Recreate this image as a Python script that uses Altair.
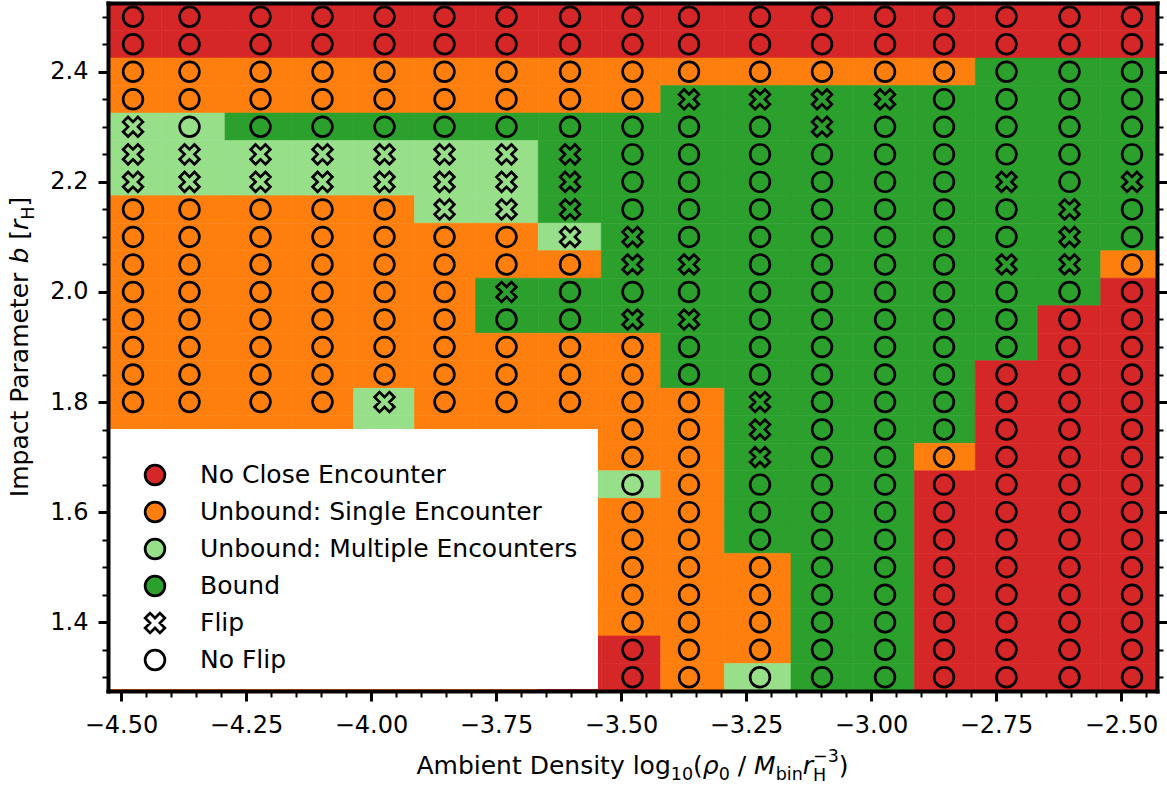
import altair as alt
import pandas as pd

FONT = "DejaVu Sans"

# log10 ambient density of each grid column
density = [-4.476, -4.363, -4.221, -4.097, -3.973, -3.853, -3.729, -3.602,
           -3.477, -3.364, -3.222, -3.098, -2.972, -2.854, -2.729, -2.603, -2.478]

# impact parameter of each grid row, top to bottom
impact = [2.50, 2.45, 2.40, 2.35, 2.30, 2.25, 2.20, 2.15, 2.10, 2.05, 2.00,
          1.95, 1.90, 1.85, 1.80, 1.75, 1.70, 1.65, 1.60, 1.55, 1.50, 1.45,
          1.40, 1.35, 1.30]

# outcome per cell: R no close encounter, O unbound single, L unbound multiple, G bound
outcome_rows = [
    "RRRRRRRRRRRRRRRRR",
    "RRRRRRRRRRRRRRRRR",
    "OOOOOOOOOOOOOOGGG",
    "OOOOOOOOOGGGGGGGG",
    "LLGGGGGGGGGGGGGGG",
    "LLLLLLLGGGGGGGGGG",
    "LLLLLLLGGGGGGGGGG",
    "OOOOOLLGGGGGGGGGG",
    "OOOOOOOLGGGGGGGGG",
    "OOOOOOOOGGGGGGGGO",
    "OOOOOOGGGGGGGGGGR",
    "OOOOOOGGGGGGGGGRR",
    "OOOOOOOOOGGGGGGRR",
    "OOOOOOOOOGGGGGRRR",
    "OOOOLOOOOOGGGGRRR",
    "OOOOLOOOOOGGGGRRR",
    "OOOOOOOOOOGGGORRR",
    "OOOOOOOLLOGGGRRRR",
    "OOOOOOOOOOGGGRRRR",
    "OOOOOOOOOOGGGRRRR",
    "OOOOOOOOOOOGGRRRR",
    "OOOOOOOOOOOGGRRRR",
    "OOOOOOOOOOOGGRRRR",
    "OOOOOOORROOGGRRRR",
    "OOOOOOORROLGGRRRR",
]

# spin flip per cell: x flip, . no flip, - no marker
flip_rows = [
    ".................",
    ".................",
    ".................",
    ".........xxxx....",
    "x..........x.....",
    "xxxxxxxx.........",
    "xxxxxxxx......x.x",
    ".....xxx.......x.",
    ".......xx......x.",
    "........xx....xx.",
    "......x..........",
    "........xx.......",
    ".................",
    ".................",
    "....x.....x......",
    "--------..x......",
    "--------..x......",
    "--------.........",
    "--------.........",
    "--------.........",
    "--------.........",
    "--------.........",
    "--------.........",
    "--------.........",
    "--------.........",
]

outcome_codes = ["R", "O", "L", "G"]
outcome_labels = ["No Close Encounter", "Unbound: Single Encounter",
                  "Unbound: Multiple Encounters", "Bound"]
outcome_colors = ["#d62728", "#ff7f0e", "#98df8a", "#2ca02c"]
flip_labels = ["Flip", "No Flip"]

x_major = [-4.50, -4.25, -4.00, -3.75, -3.50, -3.25, -3.00, -2.75, -2.50]
y_major = [1.4, 1.6, 1.8, 2.0, 2.2, 2.4]
x_minor = [round(-4.50 + 0.05 * k, 2) for k in range(42)]
y_minor = [round(1.30 + 0.05 * k, 2) for k in range(25)]

# thick filled "X" outline, in the -1..1 box used by Vega custom shapes
X_PATH = ("M-0.5,-1L0,-0.5L0.5,-1L1,-0.5L0.5,0L1,0.5L0.5,1L0,0.5"
          "L-0.5,1L-1,0.5L-0.5,0L-1,-0.5Z")

MARK_SIZE, MARK_STROKE = 390, 2.7
W, H = 1049, 688
PAD_L, PAD_T = 108, 3


def cell_edges(vals):
    v = sorted(vals)
    mids = [(a + b) / 2 for a, b in zip(v[:-1], v[1:])]
    lo = [v[0] - (v[1] - v[0]) / 2] + mids
    hi = mids + [v[-1] + (v[-1] - v[-2]) / 2]
    return {val: (l, h) for val, l, h in zip(v, lo, hi)}


xe, ye = cell_edges(density), cell_edges(impact)
names = dict(zip(outcome_codes, outcome_labels))
flip_names = {"x": "Flip", ".": "No Flip", "-": None}
records = []
for b, orow, frow in zip(impact, outcome_rows, flip_rows):
    for d, oc, fc in zip(density, orow, frow):
        records.append(dict(density=d, impact=b,
                            x0=xe[d][0], x1=xe[d][1], y0=ye[b][0], y1=ye[b][1],
                            outcome=names[oc], flip=flip_names[fc]))
grid = pd.DataFrame(records)
marked = grid[grid["flip"].notna()]

xs = alt.Scale(domain=[min(density) - 0.05, max(density) + 0.05], nice=False, zero=False)
ys = alt.Scale(domain=[min(impact) - 0.025, max(impact) + 0.025], nice=False, zero=False)


def make_axis(orient, values, tick_size, tick_width, labels=False, fmt=None,
              domain=False, ticks=True, pad=0):
    kw = dict(orient=orient, values=values, ticks=ticks, tickSize=tick_size,
              tickWidth=tick_width, tickColor="black", labels=labels,
              domain=domain, grid=False, title=None, zindex=1)
    if labels:
        kw.update(format=fmt, labelFont=FONT, labelFontSize=24, labelColor="black",
                  labelPadding=pad, labelFlush=False, labelOverlap=False)
    if domain:
        kw.update(domainColor="black", domainWidth=4, domainCap="square")
    return alt.Axis(**kw)


cells = alt.Chart(grid).mark_rect(clip=True, strokeWidth=0.6).encode(
    x=alt.X("x0:Q", scale=xs,
            axis=make_axis("bottom", x_major, 10, 3, labels=True, fmt=".2f",
                           domain=True, pad=12)),
    x2="x1:Q",
    y=alt.Y("y0:Q", scale=ys,
            axis=make_axis("left", y_major, 10, 3, labels=True, fmt=".1f",
                           domain=True, pad=10)),
    y2="y1:Q",
    color=alt.Color("outcome:N", scale=alt.Scale(domain=outcome_labels, range=outcome_colors),
                    legend=None),
    stroke=alt.Stroke("outcome:N", scale=alt.Scale(domain=outcome_labels, range=outcome_colors),
                      legend=None),
)

markers = alt.Chart(marked).mark_point(filled=False, size=MARK_SIZE, strokeWidth=MARK_STROKE,
                                       color="black", opacity=1).encode(
    x=alt.X("density:Q", scale=xs, axis=make_axis("bottom", x_minor, 6, 2)),
    y=alt.Y("impact:Q", scale=ys, axis=make_axis("left", y_minor, 6, 2)),
    shape=alt.Shape("flip:N", scale=alt.Scale(domain=flip_labels, range=[X_PATH, "circle"]),
                    legend=None),
)

frame_major = alt.Chart(grid).mark_point(opacity=0).encode(
    x=alt.X("density:Q", scale=xs,
            axis=make_axis("top", x_major, 0, 0, domain=True, ticks=False)),
    y=alt.Y("impact:Q", scale=ys,
            axis=make_axis("right", y_major, 10, 3, domain=True)),
)

frame_minor = alt.Chart(grid).mark_point(opacity=0).encode(
    x=alt.X("density:Q", scale=xs, axis=None),
    y=alt.Y("impact:Q", scale=ys, axis=make_axis("right", y_minor, 6, 2)),
)

one = pd.DataFrame({"k": [0]})

# legend: white panel with a symbol and a label per entry
legend_layers = [
    alt.Chart(one).mark_rect(color="white").encode(
        x=alt.value(2), x2=alt.value(490), y=alt.value(426), y2=alt.value(686)
    )
]
entries = outcome_labels + flip_labels
entry_fill = outcome_colors + ["white", "white"]
entry_shape = ["circle"] * 4 + [X_PATH, "circle"]
LEG_X, LEG_TEXT_X, LEG_Y0, LEG_STEP = 47, 92, 472, 37
for i, (label, fill, shape) in enumerate(zip(entries, entry_fill, entry_shape)):
    row_y = LEG_Y0 + LEG_STEP * i
    legend_layers.append(
        alt.Chart(one).mark_point(
            shape=shape, filled=True, fill=fill, stroke="black",
            strokeWidth=MARK_STROKE, size=MARK_SIZE, opacity=1
        ).encode(x=alt.value(LEG_X), y=alt.value(row_y))
    )
    legend_layers.append(
        alt.Chart(one).mark_text(
            text=label, font=FONT, fontSize=25, color="black",
            align="left", baseline="middle"
        ).encode(x=alt.value(LEG_TEXT_X), y=alt.value(row_y))
    )

# axis titles with math-style sub/superscripts, built from text pieces
ADV = {'A': 1401, 'm': 1995, 'b': 1300, 'i': 569, 'e': 1260, 'n': 1298, 't': 803,
       ' ': 651, 'D': 1577, 's': 1067, 'y': 1212, 'l': 569, 'o': 1253, 'g': 1300,
       '1': 1303, '0': 1303, '(': 799, ')': 799, 'ρ': 1300, '/': 690, 'M': 1767,
       'r': 842, 'H': 1540, '−': 1716, '3': 1303, 'I': 604, 'p': 1300, 'a': 1255,
       'c': 1126, 'P': 1235, '[': 799, ']': 799}


def lay_out(segments):
    pos, out = 0.0, []
    for text, size, style, shift, advance in segments:
        w = sum(ADV[c] for c in text) * size / 2048
        if text.strip():
            out.append((text, size, style, shift, pos))
        if advance:
            pos += w
    return out, pos


BIG, SMALL = 25, 17.5
x_title = [
    ("Ambient Density log", BIG, "normal", 0, True),
    ("10", SMALL, "normal", 6, True),
    ("(", BIG, "normal", 0, True),
    ("ρ", BIG, "italic", 0, True),
    ("0", SMALL, "normal", 6, True),
    (" ", BIG, "normal", 0, True),
    ("/", BIG, "normal", 0, True),
    (" ", BIG, "normal", 0, True),
    ("M", BIG, "italic", 0, True),
    ("bin", SMALL, "normal", 6, True),
    ("r", BIG, "italic", 0, True),
    ("H", SMALL, "normal", 7, False),
    ("−3", SMALL, "normal", -12, True),
    (")", BIG, "normal", 0, True),
]
y_title = [
    ("Impact Parameter", BIG, "normal", 0, True),
    (" ", BIG, "normal", 0, True),
    ("b", BIG, "italic", 0, True),
    (" ", BIG, "normal", 0, True),
    ("[", BIG, "normal", 0, True),
    ("r", BIG, "italic", 0, True),
    ("H", SMALL, "normal", 6, True),
    ("]", BIG, "normal", 0, True),
]

title_layers = []
pieces, total = lay_out(x_title)
x_start, x_base = W / 2 - total / 2, 771
for text, size, style, shift, pos in pieces:
    title_layers.append(
        alt.Chart(one).mark_text(
            text=text, font=FONT, fontSize=size, fontStyle=style, color="black",
            align="left", baseline="alphabetic"
        ).encode(x=alt.value(x_start + pos), y=alt.value(x_base + shift))
    )

pieces, total = lay_out(y_title)
y_start, y_base = H / 2 + total / 2, -80
for text, size, style, shift, pos in pieces:
    title_layers.append(
        alt.Chart(one).mark_text(
            text=text, font=FONT, fontSize=size, fontStyle=style, color="black",
            align="left", baseline="alphabetic", angle=270
        ).encode(x=alt.value(y_base + shift), y=alt.value(y_start - pos))
    )

chart = alt.layer(
    cells, markers, frame_major, frame_minor, *legend_layers, *title_layers
).resolve_axis(
    x="independent", y="independent"
).resolve_scale(
    color="independent", shape="independent"
).properties(
    width=W, height=H,
    autosize=alt.AutoSizeParams(type="none"),
    padding={"left": PAD_L, "top": PAD_T, "right": 1167 - PAD_L - W, "bottom": 790 - PAD_T - H},
    background="white",
).configure_view(stroke=None)

chart.save("out.html", embed_options={"renderer": "svg", "actions": False})
